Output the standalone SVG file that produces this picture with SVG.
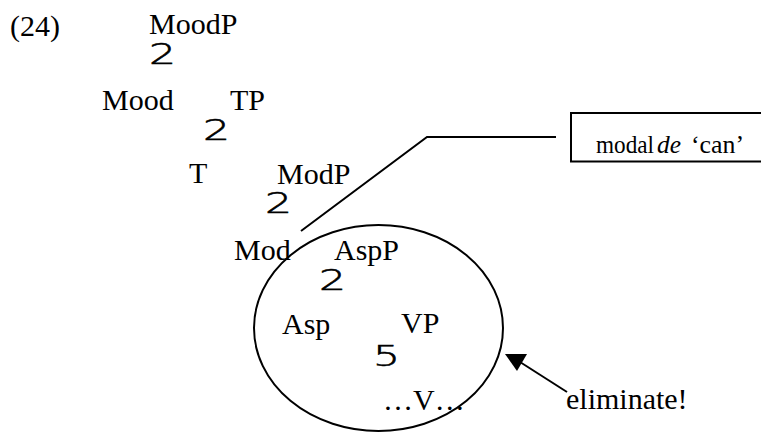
<svg xmlns="http://www.w3.org/2000/svg" width="761" height="433" viewBox="0 0 761 433">
<style>
.t{font-family:"Liberation Serif","Times New Roman",serif;font-size:30px;fill:#000}
.b{font-family:"DejaVu Sans","Liberation Sans",sans-serif;font-weight:200;font-size:29px;fill:#000;stroke:#000;stroke-width:0.6}
.s{fill:none;stroke:#000;stroke-width:2}
.c{font-family:"Liberation Serif","Times New Roman",serif;font-size:25px;fill:#000}
</style>
<rect width="761" height="433" fill="#fff"/>
<text class="t" x="10" y="36">(24)</text>
<g id="n-moodp"><text class="t" x="149" y="34">MoodP</text><text class="b" x="149" y="64" textLength="27" lengthAdjust="spacingAndGlyphs">2</text></g>
<g id="n-mood"><text class="t" x="102" y="110">Mood</text></g>
<g id="n-tp"><text class="t" x="230" y="110">TP</text><text class="b" x="203" y="140" textLength="27" lengthAdjust="spacingAndGlyphs">2</text></g>
<g id="n-t"><text class="t" x="189" y="183">T</text></g>
<g id="n-modp"><text class="t" x="277" y="184">ModP</text><text class="b" x="265" y="213" textLength="27" lengthAdjust="spacingAndGlyphs">2</text></g>
<g id="n-mod"><text class="t" x="234" y="260">Mod</text></g>
<g id="n-aspp"><text class="t" x="334" y="260">AspP</text><text class="b" x="319" y="290" textLength="27" lengthAdjust="spacingAndGlyphs">2</text></g>
<g id="n-asp"><text class="t" x="282" y="334">Asp</text></g>
<g id="n-vp"><text class="t" x="401" y="333">VP</text><text class="b" x="373" y="366" textLength="27" lengthAdjust="spacingAndGlyphs">5</text></g>
<g id="n-v"><text class="t" x="383" y="410">…V…</text></g>
<g id="n-box"><rect class="s" x="571" y="113" width="200" height="48.5"/><text class="c" y="152.7"><tspan x="596" textLength="58" lengthAdjust="spacingAndGlyphs">modal</tspan><tspan x="657" font-style="italic" textLength="24" lengthAdjust="spacingAndGlyphs">de</tspan><tspan x="691" textLength="53" lengthAdjust="spacingAndGlyphs">‘can’</tspan></text></g>
<g id="n-elim"><text class="t" x="566" y="409">eliminate!</text></g>
<g id="connectors">
<ellipse class="s" cx="378.5" cy="328" rx="124.5" ry="103"/>
<polyline class="s" points="301,231 427,137 556,137"/>
<line class="s" x1="520" y1="362" x2="567" y2="392"/>
<polygon points="505,354 527,354 517,371" fill="#000"/>
</g>
</svg>
